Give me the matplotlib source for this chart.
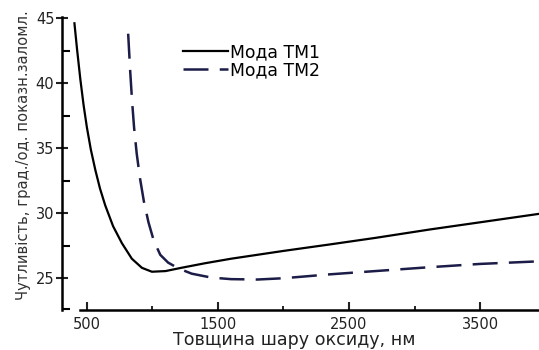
import matplotlib.pyplot as plt
from matplotlib.ticker import FixedLocator

plt.rcParams["font.family"] = ["DejaVu Sans"]

# Мода TM1 (solid)
tm1_x = [405, 425, 450, 475, 500, 530, 565, 600, 640, 700, 767, 843, 920, 996, 1100, 1220,
         1400, 1600, 2000, 2355, 2700, 3118, 3500, 3950]
tm1_y = [44.6, 42.6, 40.3, 38.3, 36.6, 34.9, 33.3, 31.9, 30.6, 29.0, 27.7, 26.5, 25.8, 25.5, 25.55, 25.8,
         26.15, 26.5, 27.1, 27.6, 28.1, 28.75, 29.3, 29.95]

# Мода TM2 (dashed)
tm2_x = [815, 830, 845, 860, 880, 905, 935, 970, 1010, 1060, 1120, 1200, 1300, 1450,
         1600, 1800, 2000, 2355, 2700, 3118, 3500, 3950]
tm2_y = [43.8, 41.0, 38.6, 36.6, 34.6, 32.7, 30.9, 29.3, 27.9, 26.8, 26.2, 25.75, 25.35, 25.05,
         24.93, 24.9, 25.0, 25.3, 25.55, 25.85, 26.1, 26.3]

fig = plt.figure(figsize=(5.39, 3.5), dpi=100)
ax = fig.add_axes([0.115, 0.114, 0.885, 0.838])

ax.plot(tm1_x, tm1_y, color="black", lw=1.6, label="Мода TM1")
ax.plot(tm2_x, tm2_y, color="#1c1c48", lw=1.8, dashes=(10, 4.5), label="Мода TM2")

ax.set_xlim(310, 3950)
ax.set_ylim(22.55, 45.1)

ax.spines["top"].set_visible(False)
ax.spines["right"].set_visible(False)
ax.spines["left"].set_linewidth(1.8)
ax.spines["bottom"].set_linewidth(1.8)
ax.spines["left"].set_bounds(22.55, 45.1)
ax.spines["bottom"].set_bounds(450, 3950)

ax.xaxis.set_major_locator(FixedLocator([500, 1500, 2500, 3500]))
ax.xaxis.set_minor_locator(FixedLocator([1000, 2000, 3000]))
ax.yaxis.set_major_locator(FixedLocator([25, 30, 35, 40, 45]))
ax.yaxis.set_minor_locator(FixedLocator([22.6, 27.5, 32.5, 37.5, 42.5]))

ax.tick_params(axis="x", which="major", direction="in", length=6, width=1.5, labelsize=10.5, pad=5, colors="#222222")
ax.tick_params(axis="x", which="minor", direction="in", length=3, width=1.2)
ax.tick_params(axis="y", which="major", direction="inout", length=9, width=1.5, labelsize=10.5, pad=1, colors="#222222")
ax.tick_params(axis="y", which="minor", direction="in", length=6, width=1.5)

ax.set_xlabel("Товщина шару оксиду, нм", fontsize=12.6, color="#222222")
ax.xaxis.set_label_coords(0.487, -0.072)
ax.set_ylabel("Чутливість, град./од. показн.заломл.", fontsize=10.6, color="#333333")
ax.yaxis.set_label_coords(-0.066, 0.529)

ax.legend(loc="center left", bbox_to_anchor=(0.254, 0.848), frameon=False, fontsize=12.4,
          handlelength=2.6, handletextpad=0.1, labelspacing=0.0, borderpad=0, borderaxespad=0)

fig.savefig("out.png", dpi=100)
